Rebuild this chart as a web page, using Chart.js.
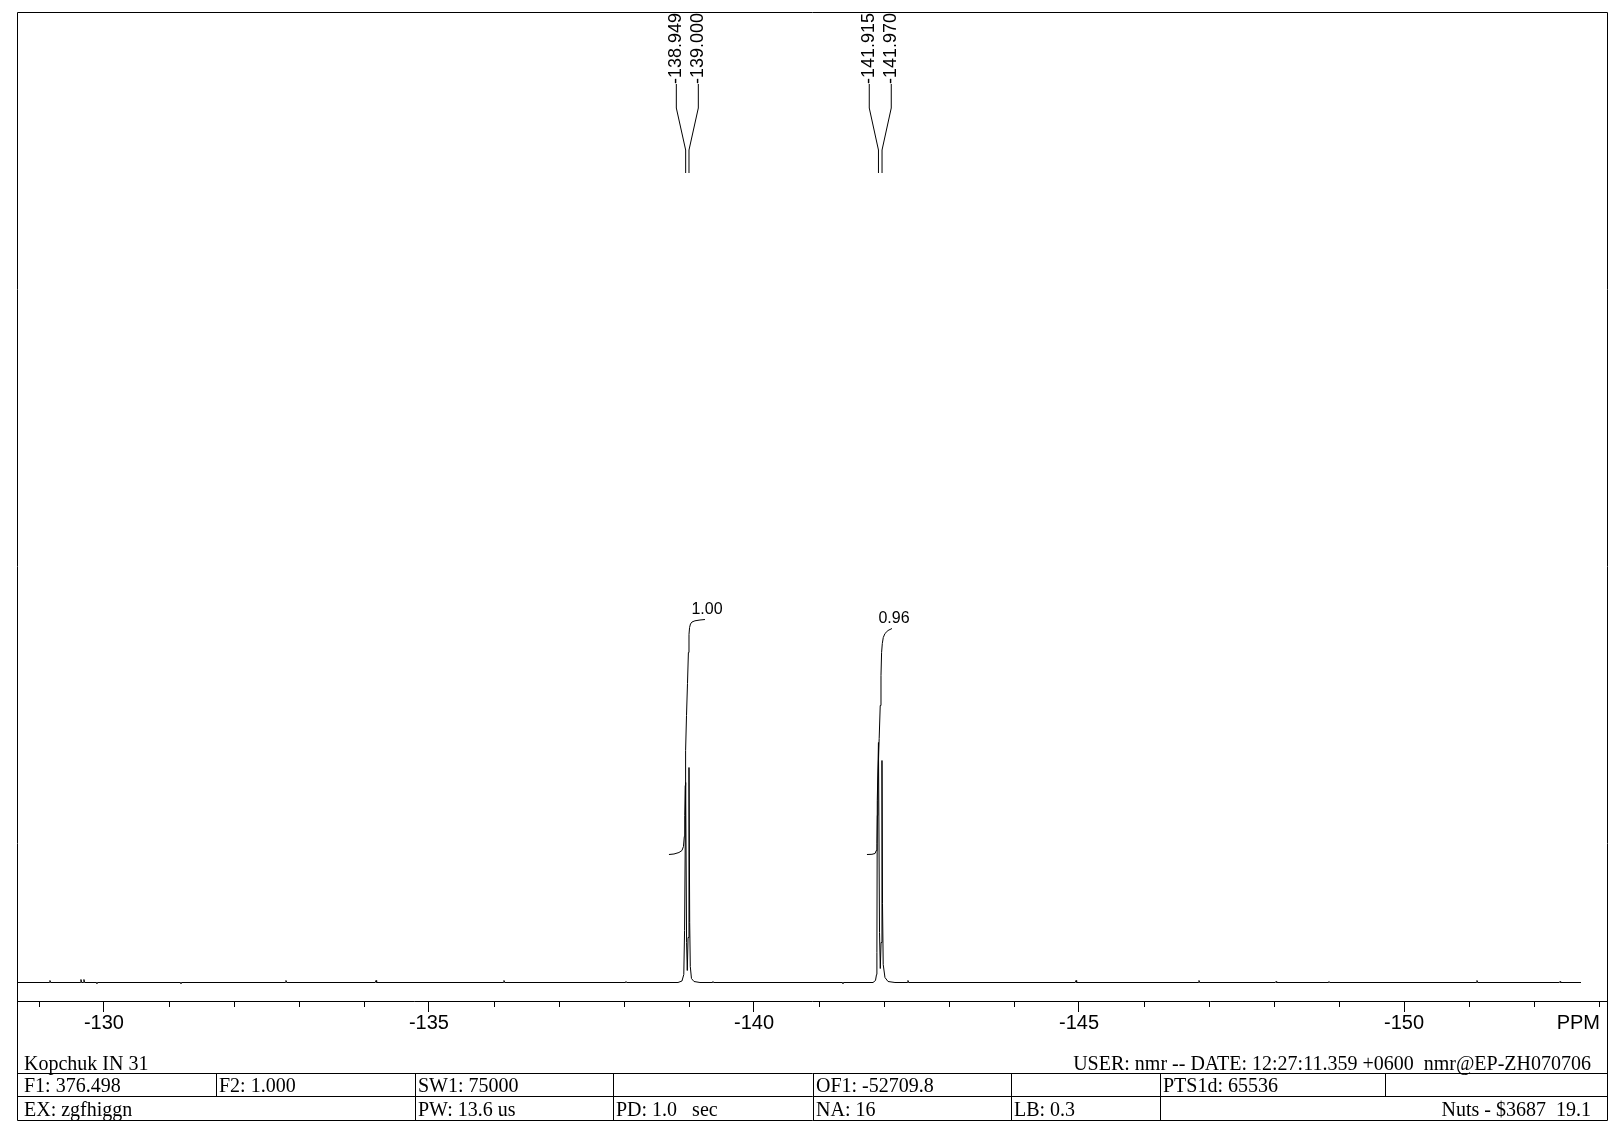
<!DOCTYPE html>
<html>
<head>
<meta charset="utf-8">
<script src="https://cdn.jsdelivr.net/npm/chart.js@4.4.0/dist/chart.umd.min.js"></script>
<style>
html,body{margin:0;padding:0;background:#fff;}
canvas{display:block;}
</style>
</head>
<body>
<canvas id="c" width="1623" height="1141"></canvas>
<script>
// ---------------- DATA ----------------
// 19F spectrum trace: chemical shift (ppm) and intensity (arbitrary units)
const spectrumPPM = [
  -128.662,
  -129.159, -129.169, -129.179,
  -129.636, -129.646, -129.656,
  -129.682, -129.692, -129.702,
  -129.882, -129.892, -129.902,
  -131.175, -131.185, -131.195,
  -132.790, -132.800, -132.810,
  -134.175, -134.185, -134.195,
  -136.144, -136.154, -136.164,
  -138.021, -138.031, -138.041,
  -138.831, -138.892, -138.920, -138.932, -138.949, -138.963, -138.974, -138.986, -139.000, -139.011, -139.020, -139.038, -139.077, -139.169,
  -139.359, -139.369, -139.379,
  -141.359, -141.369, -141.379,
  -141.831, -141.869, -141.885, -141.891, -141.897, -141.915, -141.931, -141.943, -141.955, -141.969, -141.977, -141.988, -142.015, -142.062, -142.169,
  -142.359, -142.369, -142.379,
  -144.944, -144.954, -144.964,
  -146.836, -146.846, -146.856,
  -148.021, -148.031, -148.041,
  -148.836, -148.846, -148.856,
  -151.113, -151.123, -151.133,
  -152.390, -152.400, -152.410,
  -152.723
];
const spectrumInt = [
  0,
  0, 2, 0,
  0, 3, 0,
  0, 3, 0,
  0, -1, 0,
  0, -1, 0,
  0, 2, 0,
  0, 2, 0,
  0, 2, 0,
  0, 1, 0,
  0, 1.5, 8, 52, 200, 40, 12, 45, 215, 60, 16, 4, 1, 0,
  0, 1, 0,
  0, -1, 0,
  0, 2, 8, 30, 182, 240, 50, 14, 40, 222, 79, 18, 5, 1, 0,
  0, 2, 0,
  0, 2, 0,
  0, 2, 0,
  0, 1, 0,
  0, 1, 0,
  0, 2, 0,
  0, 1, 0,
  0
];

// integral curves
const integral1PPM = [-138.692, -138.769, -138.846, -138.892, -138.915, -138.928, -138.935, -138.942, -138.948, -138.962, -138.977, -138.991, -139.000, -139.009, -139.023, -139.046, -139.092, -139.169, -139.246];
const integral1Int = [128, 128.5, 130, 132, 136, 146, 167, 197, 232, 267, 299, 330, 348, 355, 358.5, 360.5, 361.7, 362.5, 363];
const integral2PPM = [-141.738, -141.815, -141.862, -141.882, -141.892, -141.898, -141.905, -141.915, -141.926, -141.942, -141.954, -141.963, -141.974, -141.989, -142.015, -142.062, -142.123];
const integral2Int = [128, 128.2, 129, 132, 139, 167, 192, 222, 244, 277, 307, 330, 339, 345, 349, 352, 354];
const integralLabels = ['1.00', '0.96'];

// peak picks
const peakPPM = [-138.949, -139.000, -141.915, -141.970];
const peakLabels = ['-138.949', '-139.000', '-141.915', '-141.970'];
const peakGroups = [[0, 1], [2, 3]];

// axis
const axisMin = -153.123;
const axisMax = -128.662;
const majorTicks = [-130, -135, -140, -145, -150];
const axisUnit = 'PPM';

// footer texts
const headerLeft = 'Kopchuk IN 31';
const headerRight = 'USER: nmr -- DATE: 12:27:11.359 +0600  nmr@EP-ZH070706';
const row1Cells = ['F1: 376.498', 'F2: 1.000', 'SW1: 75000', '', 'OF1: -52709.8', '', 'PTS1d: 65536', ''];
const row2Cells = ['EX: zgfhiggn', 'PW: 13.6 us', 'PD: 1.0   sec', 'NA: 16', 'LB: 0.3'];
const row2Right = 'Nuts - $3687  19.1';

// ---------------- CHART ----------------
const toXY = (xs, ys) => xs.map((x, i) => ({x: x, y: ys[i]}));

const SANS = "'Liberation Sans', Arial, sans-serif";
const SERIF = "'Liberation Serif', 'Times New Roman', serif";

const overlay = {
  id: 'overlay',
  afterDraw(chart) {
    const ctx = chart.ctx;
    const xs = chart.scales.x;
    const ys = chart.scales.y;
    const area = chart.chartArea;
    ctx.save();
    ctx.strokeStyle = '#000';
    ctx.fillStyle = '#000';
    ctx.lineWidth = 1;

    // minor ticks
    xs.ticks.forEach(t => {
      if (majorTicks.indexOf(t.value) < 0) {
        const px = Math.round(xs.getPixelForValue(t.value)) + 0.5;
        ctx.beginPath();
        ctx.moveTo(px, area.bottom);
        ctx.lineTo(px, area.bottom + 6);
        ctx.stroke();
      }
    });

    // PPM unit label
    ctx.font = '20px ' + SANS;
    ctx.textAlign = 'right';
    ctx.textBaseline = 'middle';
    ctx.fillText(axisUnit, 1600, 1023);

    // outer frame
    const L = 17.5, R = 1607.5, T = 12.5, B = 1120.5;
    ctx.beginPath();
    ctx.rect(L, T, R - L, B - T);
    ctx.stroke();

    // table lines
    const h1 = 1073.5, h2 = 1096.5;
    ctx.beginPath();
    ctx.moveTo(L, h1); ctx.lineTo(R, h1);
    ctx.moveTo(L, h2); ctx.lineTo(R, h2);
    const row1Cols = [216, 415, 613, 813, 1011, 1160, 1385];
    row1Cols.forEach(c => { ctx.moveTo(c + 0.5, h1); ctx.lineTo(c + 0.5, h2); });
    const row2Cols = [415, 613, 813, 1011, 1160];
    row2Cols.forEach(c => { ctx.moveTo(c + 0.5, h2); ctx.lineTo(c + 0.5, B); });
    ctx.stroke();

    // footer texts
    ctx.font = '20px ' + SERIF;
    ctx.textBaseline = 'alphabetic';
    ctx.textAlign = 'left';
    ctx.fillText(headerLeft, 24, 1070);
    ctx.textAlign = 'right';
    ctx.fillText(headerRight, 1591, 1070);
    ctx.textAlign = 'left';
    const r1x = [24, 219, 418, 616, 816, 1014, 1163, 1388];
    row1Cells.forEach((s, i) => { if (s) ctx.fillText(s, r1x[i], 1092); });
    const r2x = [24, 418, 616, 816, 1014];
    row2Cells.forEach((s, i) => { if (s) ctx.fillText(s, r2x[i], 1116); });
    ctx.textAlign = 'right';
    ctx.fillText(row2Right, 1591, 1116);

    // peak labels and leader lines
    ctx.font = '18px ' + SANS;
    peakGroups.forEach(g => {
      const pxs = g.map(i => xs.getPixelForValue(peakPPM[i]));
      const mean = pxs.reduce((a, b) => a + b, 0) / pxs.length;
      g.forEach((idx, k) => {
        const px = pxs[k];
        const lx = mean + (k - (g.length - 1) / 2) * 22;
        ctx.beginPath();
        ctx.moveTo(lx, 84);
        ctx.lineTo(lx, 108);
        ctx.lineTo(px, 150);
        ctx.lineTo(px, 173);
        ctx.stroke();
        ctx.save();
        ctx.translate(lx, 84);
        ctx.rotate(-Math.PI / 2);
        ctx.textAlign = 'left';
        ctx.textBaseline = 'middle';
        ctx.fillText(peakLabels[idx], 0, 0);
        ctx.restore();
      });
    });

    // integral labels
    ctx.font = '16px ' + SANS;
    ctx.textAlign = 'center';
    ctx.textBaseline = 'middle';
    const ends = [
      [integral1PPM[integral1PPM.length - 1], integral1Int[integral1Int.length - 1]],
      [integral2PPM[integral2PPM.length - 1], integral2Int[integral2Int.length - 1]]
    ];
    ends.forEach((e, i) => {
      const ex = xs.getPixelForValue(e[0]);
      const ey = ys.getPixelForValue(e[1]);
      ctx.fillText(integralLabels[i], ex + 2, ey - 10);
    });

    ctx.restore();
  }
};

const lineStyle = {
  borderColor: '#000',
  borderWidth: 1,
  pointRadius: 0,
  pointHoverRadius: 0,
  tension: 0,
  fill: false
};

new Chart(document.getElementById('c'), {
  type: 'line',
  data: {
    datasets: [
      Object.assign({label: 'spectrum', data: toXY(spectrumPPM, spectrumInt)}, lineStyle),
      Object.assign({label: 'integral 1', data: toXY(integral1PPM, integral1Int)}, lineStyle),
      Object.assign({label: 'integral 2', data: toXY(integral2PPM, integral2Int)}, lineStyle)
    ]
  },
  options: {
    responsive: false,
    animation: false,
    devicePixelRatio: 1,
    events: [],
    layout: {padding: {left: 17, right: 16, top: 12, bottom: 100}},
    plugins: {legend: {display: false}, tooltip: {enabled: false}, title: {display: false}},
    scales: {
      x: {
        type: 'linear',
        reverse: true,
        min: axisMin,
        max: axisMax,
        border: {display: true, color: '#000', width: 1},
        grid: {
          display: true,
          drawOnChartArea: false,
          drawTicks: true,
          tickLength: 11,
          color: '#000',
          tickColor: (c) => (c.tick && majorTicks.indexOf(c.tick.value) >= 0) ? '#000' : 'rgba(0,0,0,0)'
        },
        ticks: {
          stepSize: 1,
          includeBounds: false,
          autoSkip: false,
          maxRotation: 0,
          minRotation: 0,
          padding: -1,
          color: '#000',
          font: {family: SANS, size: 20},
          callback: (v) => majorTicks.indexOf(v) >= 0 ? String(v) : ''
        },
        afterFit: (s) => { s.height = 40; }
      },
      y: {
        type: 'linear',
        display: false,
        min: -18.5,
        max: 970.5
      }
    }
  },
  plugins: [overlay]
});
</script>
</body>
</html>
